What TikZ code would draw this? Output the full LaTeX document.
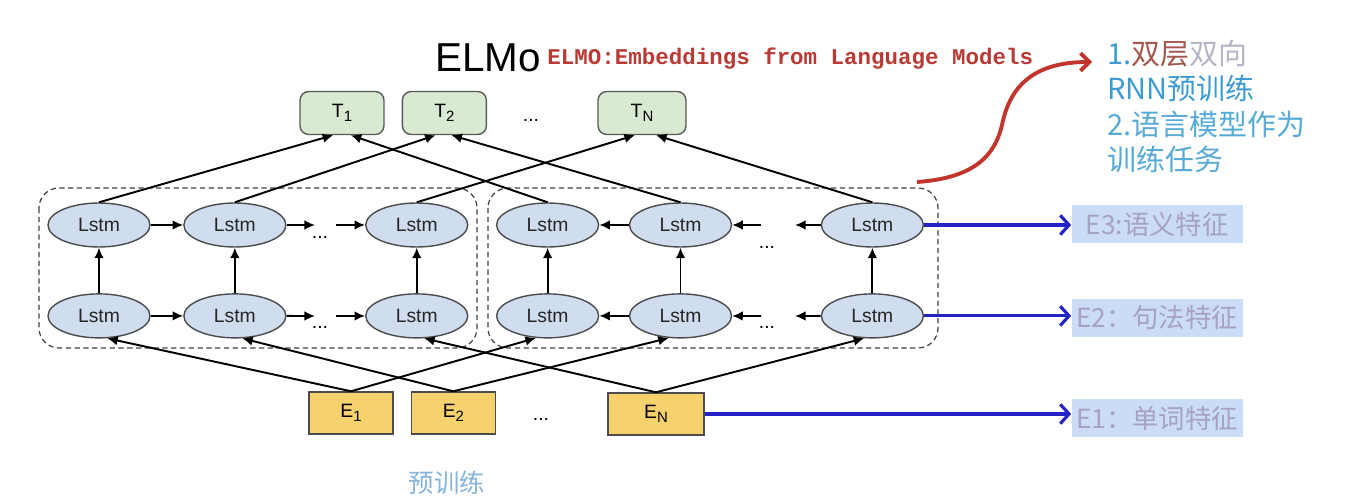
\documentclass[tikz,border=0pt]{standalone}
\usepackage{fontspec}
\setmainfont{Liberation Sans}
\newfontfamily\cjk{Noto Sans CJK SC}
\newfontfamily\redmono{Liberation Mono}
\usepackage{xcolor}
\usetikzlibrary{arrows.meta,positioning,shapes.geometric,calc}

\definecolor{lstmblue}{HTML}{CFDDEE}
\definecolor{outgreen}{HTML}{D9EAD3}
\definecolor{embyellow}{HTML}{F6D26E}
\definecolor{featblue}{HTML}{CADDF4}
\definecolor{feattext}{HTML}{A7A1C8}
\definecolor{featarrow}{HTML}{2323C8}
\definecolor{curvered}{HTML}{C2352C}
\definecolor{titlered}{HTML}{B83A35}
\definecolor{noteblue}{HTML}{3D9BD2}
\definecolor{notebrown}{HTML}{A3564C}
\definecolor{notegray}{HTML}{B8B2C9}
\definecolor{notelight}{HTML}{55AAD6}
\definecolor{pretext}{HTML}{86B4DB}

\newcommand{\lowsub}[1]{\raisebox{-0.35ex}{\fontsize{8.5}{10}\selectfont #1}}

\begin{document}
\begin{tikzpicture}[
        x=0.02cm, y=-0.02cm,
        font=\fontsize{11}{13}\selectfont,
        >={Latex[length=6pt,width=5.5pt]},
        node distance=0.6cm,
        lstm/.style={ellipse,draw=black!70,fill=lstmblue,line width=0.8pt,minimum width=2.04cm,minimum height=0.88cm,inner sep=0pt,text=black!85},
        outbox/.style={rectangle,rounded corners=5pt,draw=black!65,fill=outgreen,line width=0.8pt,minimum width=1.68cm,minimum height=0.86cm,inner sep=0pt},
        embbox/.style={rectangle,draw=black!70,fill=embyellow,line width=0.8pt,minimum width=1.68cm,minimum height=0.84cm,inner sep=0pt},
        featbox/.style={rectangle,fill=featblue,minimum width=3.42cm,minimum height=0.76cm,inner sep=0pt,text=feattext,font=\cjk\fontsize{15}{17}\selectfont},
        groupbox/.style={dashed,dash pattern=on 3pt off 2pt,draw=black!75,line width=0.7pt,rounded corners=0.4cm},
        dots/.style={inner sep=0pt,font=\fontsize{11}{13}\selectfont},
        arrow/.style={->,line width=1.1pt},
        featline/.style={-{Straight Barb[length=5pt,width=11pt]},line width=1.8pt,featarrow}
    ]
        \useasboundingbox (0,0) rectangle (1354,502);

        % dashed groups
        \draw[groupbox] (39,188) rectangle (477,348);
        \draw[groupbox] (488,188) rectangle (938,348);

        % upper lstm layer
        \node[lstm] (fwdhi1) at (99,225) {Lstm};
        \node[lstm,right=0.65cm of fwdhi1] (fwdhi2) {Lstm};
        \node[lstm,right=1.57cm of fwdhi2] (fwdhi3) {Lstm};
        \node[lstm,right=0.55cm of fwdhi3] (bwdhi1) {Lstm};
        \node[lstm,right=0.59cm of bwdhi1] (bwdhi2) {Lstm};
        \node[lstm,right=1.77cm of bwdhi2] (bwdhi3) {Lstm};

        % lower lstm layer
        \node[lstm,below=0.91cm of fwdhi1] (fwdlo1) {Lstm};
        \node[lstm,below=0.91cm of fwdhi2] (fwdlo2) {Lstm};
        \node[lstm,below=0.91cm of fwdhi3] (fwdlo3) {Lstm};
        \node[lstm,below=0.91cm of bwdhi1] (bwdlo1) {Lstm};
        \node[lstm,below=0.91cm of bwdhi2] (bwdlo2) {Lstm};
        \node[lstm,below=0.91cm of bwdhi3] (bwdlo3) {Lstm};

        \node[dots] (fhdots) at (320,237) {...};
        \node[dots] (fldots) at (320,327) {...};
        \node[dots] (bhdots) at (767,247) {...};
        \node[dots] (bldots) at (767,327) {...};

        % outputs and embeddings
        \node[outbox] (t1) at (342,113) {T\lowsub{1}};
        \node[outbox,right=0.34cm of t1] (t2) {T\lowsub{2}};
        \node[dots] (tdots) at (531,120) {...};
        \node[outbox,minimum width=1.76cm] (tn) at (642,113) {T\lowsub{N}};

        \node[embbox] (e1) at (351,413) {E\lowsub{1}};
        \node[embbox,right=0.34cm of e1] (e2) {E\lowsub{2}};
        \node[dots] (edots) at (541,419) {...};
        \node[embbox,minimum width=1.92cm] (en) at (656,414) {E\lowsub{N}};

        % horizontal flow
        \coordinate (fhgapa) at (315,225);
        \coordinate (fhgapb) at (336,225);
        \coordinate (flgapa) at (315,316);
        \coordinate (flgapb) at (336,316);
        \coordinate (bhgapa) at (761,225);
        \coordinate (bhgapb) at (795,225);
        \coordinate (blgapa) at (761,316);
        \coordinate (blgapb) at (795,316);

        \draw[arrow] (fwdhi1) -- (fwdhi2);
        \draw[arrow] (fwdhi2) -- (fhgapa);
        \draw[arrow] (fhgapb) -- (fwdhi3);
        \draw[arrow] (fwdlo1) -- (fwdlo2);
        \draw[arrow] (fwdlo2) -- (flgapa);
        \draw[arrow] (flgapb) -- (fwdlo3);
        \draw[arrow] (bwdhi2) -- (bwdhi1);
        \draw[arrow] (bhgapa) -- (bwdhi2);
        \draw[arrow] (bwdhi3) -- (bhgapb);
        \draw[arrow] (bwdlo2) -- (bwdlo1);
        \draw[arrow] (blgapa) -- (bwdlo2);
        \draw[arrow] (bwdlo3) -- (blgapb);

        % vertical flow
        \draw[arrow] (fwdlo1) -- (fwdhi1);
        \draw[arrow] (fwdlo2) -- (fwdhi2);
        \draw[arrow] (fwdlo3) -- (fwdhi3);
        \draw[arrow] (bwdlo1) -- (bwdhi1);
        \draw[arrow] (bwdlo2) -- (bwdhi2);
        \draw[arrow] (bwdlo3) -- (bwdhi3);

        % embeddings into lower layer
        \draw[arrow] (e1.north) -- (fwdlo1.-70);
        \draw[arrow] (e1.north) -- (bwdlo1.-118);
        \draw[arrow] (e2.north) -- (fwdlo2.-72);
        \draw[arrow] (e2.north) -- (bwdlo2.-118);
        \draw[arrow] (en.north) -- (fwdlo3.-72);
        \draw[arrow] (en.north) -- (bwdlo3.-110);

        % upper layer into outputs
        \draw[arrow] (fwdhi1.north) -- ([xshift=-5pt]t1.south);
        \draw[arrow] (bwdhi1.north) -- ([xshift=5pt]t1.south);
        \draw[arrow] (fwdhi2.north) -- ([xshift=-5pt]t2.south);
        \draw[arrow] (bwdhi2.north) -- ([xshift=4pt]t2.south);
        \draw[arrow] (fwdhi3.north) -- ([xshift=-4pt]tn.south);
        \draw[arrow] (bwdhi3.north) -- ([xshift=8pt]tn.south);

        % feature labels
        \node[featbox] (feat3) at (1157,224) {E3:语义特征};
        \node[featbox] (feat2) at (1157,318) {E2：句法特征};
        \node[featbox] (feat1) at (1157,418) {E1：单词特征};
        \draw[featline] (bwdhi3) -- (bwdhi3 -| feat3.west);
        \draw[featline] (bwdlo3) -- (bwdlo3 -| feat2.west);
        \draw[featline] (en) -- (en -| feat1.west);

        % titles
        \node[anchor=base west,inner sep=0pt,font=\fontsize{23}{27}\selectfont] (elmo) at (435,72) {ELMo};
        \node[anchor=base west,inner sep=0pt,text=titlered,font=\redmono\bfseries\fontsize{12.8}{15}\selectfont] (title) at (547,65) {ELMO:Embeddings from Language Models};

        \coordinate (curvestart) at (917,182);
        \coordinate (curveend) at (1092,62);
        \draw[curvered,line width=2.2pt,-{Straight Barb[length=5pt,width=10pt]}] (curvestart) .. controls (975,178) and (995,155) .. (1002,125) .. controls (1010,85) and (1035,62) .. (curveend);

        \node[anchor=north west,align=left,inner sep=0pt,font=\cjk\fontsize{16.5}{20}\selectfont] (note) at (1107,40) {\textcolor{noteblue}{1.}\textcolor{notebrown}{双层}\textcolor{notegray}{双向}\\\textcolor{noteblue}{RNN预训练}\\\textcolor{notelight}{2.语言模型作为}\\\textcolor{notelight}{训练任务}};

        \node[text=pretext,font=\cjk\fontsize{14.5}{17}\selectfont] (pre) at (447,483) {预训练};
    \end{tikzpicture}
\end{document}
